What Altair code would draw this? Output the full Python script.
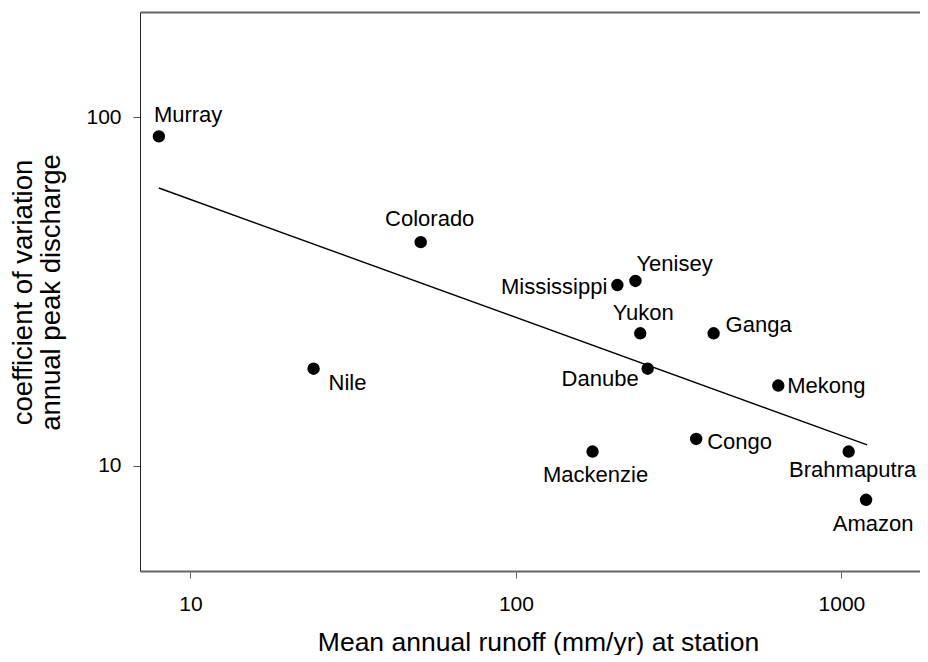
import altair as alt
import pandas as pd

# ---- data ----
rivers = ["Murray", "Colorado", "Nile", "Mississippi", "Yenisey", "Yukon", "Ganga",
          "Danube", "Mekong", "Congo", "Mackenzie", "Brahmaputra", "Amazon"]
runoff = [8.0, 51.0, 23.9, 205.0, 233.0, 241.0, 405.0, 254.0, 640.0, 358.0, 172.0, 1053.0, 1191.0]
cv = [88.0, 43.8, 19.0, 33.0, 33.9, 24.0, 24.0, 19.0, 17.0, 11.95, 11.0, 11.0, 8.0]

fit_runoff = [8.0, 1200.0]
fit_cv = [62.6, 11.5]

x_ticks = [10, 100, 1000]
y_ticks = [10, 100]

# ---- label placement (layout only) ----
label_style = {
    "Murray": ("left", -5, -21),
    "Colorado": ("center", 9, -23),
    "Nile": ("left", 15, 14),
    "Mississippi": ("right", -10, 2),
    "Yenisey": ("left", 1, -17),
    "Yukon": ("center", 3, -20),
    "Ganga": ("left", 12, -8),
    "Danube": ("right", -9, 10),
    "Mekong": ("left", 9, 0),
    "Congo": ("left", 11, 3),
    "Mackenzie": ("center", 3, 23),
    "Brahmaputra": ("center", 4, 18),
    "Amazon": ("center", 7, 24),
}

df = pd.DataFrame({"river": rivers, "runoff": runoff, "cv": cv})
fit_df = pd.DataFrame({"runoff": fit_runoff, "cv": fit_cv})

FONT = "Liberation Sans"
xscale = alt.Scale(type="log", domain=[7, 1744], nice=False)
yscale = alt.Scale(type="log", domain=[5, 200], nice=False)

x_axis = alt.Axis(
    values=x_ticks, format="d", title="Mean annual runoff (mm/yr) at station",
    titleFontSize=26.5, titleFontWeight="normal", titleFont=FONT,
    titleX=398, titleY=79, titleBaseline="alphabetic", titleAlign="center",
    labelFontSize=21, labelFont=FONT, labelPadding=15, labelColor="black",
    tickSize=7, tickColor="#666666", tickWidth=1,
    domainColor="#666666", domainWidth=2, grid=False,
)
y_axis = alt.Axis(
    values=y_ticks, format="d",
    title=["coefficient of variation", "annual peak discharge"],
    titleFontSize=27.5, titleFontWeight="normal", titleFont=FONT,
    titleX=-117, titleY=280, titleAngle=270, titleAlign="center",
    titleBaseline="middle", titleLineHeight=28.5,
    labelFontSize=21, labelFont=FONT, labelPadding=12, labelColor="black",
    tickSize=7, tickColor="#555555", tickWidth=1,
    domainColor="#222222", domainWidth=1, grid=False,
)

y_enc = alt.Y("cv:Q", scale=yscale, axis=y_axis)

points = alt.Chart(df).mark_circle(size=154, color="black", opacity=1).encode(
    x=alt.X("runoff:Q", scale=xscale, axis=x_axis),
    y=y_enc,
)

top_frame = alt.Chart(df).mark_circle(opacity=0).encode(
    x=alt.X("runoff:Q", scale=xscale,
            axis=alt.Axis(orient="top", labels=False, ticks=False, title=None,
                          domainColor="#666666", domainWidth=2, grid=False)),
    y=y_enc,
)

fit = alt.Chart(fit_df).mark_line(color="black", strokeWidth=1.4).encode(
    x=alt.X("runoff:Q", scale=xscale, axis=None),
    y=y_enc,
)

label_layers = []
for name in rivers:
    align, dx, dy = label_style[name]
    label_layers.append(
        alt.Chart(df).transform_filter(alt.datum.river == name).mark_text(
            align=align, baseline="middle", dx=dx, dy=dy,
            font=FONT, fontSize=22, color="black",
        ).encode(
            x=alt.X("runoff:Q", scale=xscale, axis=None),
            y=y_enc,
            text="river:N",
        )
    )

chart = alt.layer(top_frame, fit, points, *label_layers).resolve_axis(
    x="independent"
).properties(
    width=780, height=559,
    autosize=alt.AutoSizeParams(type="none"),
    padding={"left": 132, "top": 4, "right": 0, "bottom": 84},
).configure_view(stroke=None).configure_axis(grid=False)

chart.save("out.html", embed_options={"renderer": "svg", "actions": False})
